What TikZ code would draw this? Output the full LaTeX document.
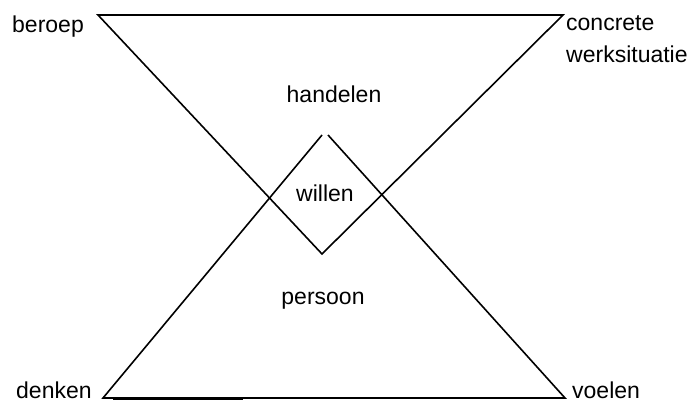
\documentclass[tikz,border=0pt]{standalone}
\usepackage{fontspec}
\setmainfont{Liberation Sans}
\begin{document}
\begin{tikzpicture}[x=1pt,y=-1pt,
  lbl/.style={inner sep=0pt,font=\fontsize{23}{32}\selectfont},
  edge/.style={line width=1.6pt,line join=miter}]
\useasboundingbox (0,0) rectangle (698,403);
% vertices
\coordinate (TL) at (98,15);
\coordinate (TR) at (563,15);
\coordinate (TB) at (322,254);
\coordinate (AL) at (322,135);
\coordinate (AR) at (328,135);
\coordinate (BL) at (103,398);
\coordinate (BR) at (565,398);
\coordinate (S1) at (113,398.5);
\coordinate (S2) at (243,398.5);
% inverted triangle
\draw[edge] (TL) -- (TR) -- (TB) -- cycle;
% upright triangle (open at apex)
\draw[edge] (AL) -- (BL) -- (BR) -- (AR);
\draw[line width=2.6pt] (S1) -- (S2);
% labels
\node[lbl,anchor=base west] (beroep) at (12,33) {beroep};
\node[lbl,anchor=north west,align=left] (werk) at (566,15) {concrete\\werksituatie};
\node[lbl,anchor=base] (handelen) at (334,103) {handelen};
\node[lbl,anchor=base] (willen) at (325,202) {willen};
\node[lbl,anchor=base] (persoon) at (323,304) {persoon};
\node[lbl,anchor=base west] (denken) at (16,398) {denken};
\node[lbl,anchor=base west] (voelen) at (572,398) {voelen};
\end{tikzpicture}
\end{document}
